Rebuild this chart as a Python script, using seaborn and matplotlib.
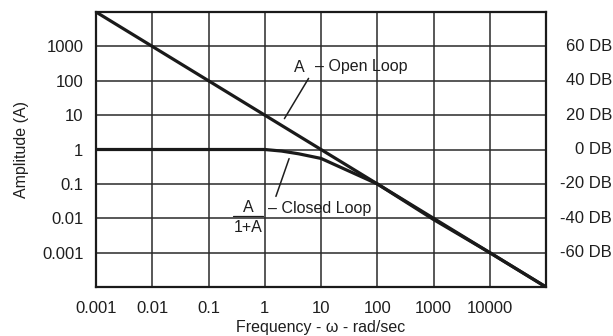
import numpy as np
import pandas as pd
import matplotlib
matplotlib.use("Agg")
import matplotlib.pyplot as plt
import matplotlib.transforms as mtransforms
import seaborn as sns

# ---- data ----
freq = [0.001, 0.01, 0.1, 1, 10, 100, 1000, 10000, 100000]
open_loop = [10000, 1000, 100, 10, 1, 0.1, 0.01, 0.001, 0.0001]
closed_freq = [0.001, 0.01, 0.1, 1, 2, 4, 10, 100, 1000, 10000, 100000]
closed_loop = [1, 1, 1, 1, 0.9, 0.75, 0.55, 0.1, 0.0092, 0.001, 0.0001]
x_ticks = [0.001, 0.01, 0.1, 1, 10, 100, 1000, 10000]
x_tick_labels = ["0.001", "0.01", "0.1", "1", "10", "100", "1000", "10000"]
y_ticks = [1000, 100, 10, 1, 0.1, 0.01, 0.001]
y_tick_labels = ["1000", "100", "10", "1", "0.1", "0.01", "0.001"]
db_labels = ["60 DB", "40 DB", "20 DB", "0 DB", "-20 DB", "-40 DB", "-60 DB"]

df_open = pd.DataFrame({"freq": freq, "amp": open_loop})
df_closed = pd.DataFrame({"freq": closed_freq, "amp": closed_loop})

sns.set_style("white")
plt.rcParams["font.family"] = ["Liberation Sans", "DejaVu Sans"]

FS_TICK = 12
FS = 11.5
TXT = "#1e1e1e"

fig = plt.figure(figsize=(6.13, 3.36), dpi=100)
L, R, T, B = 96, 546, 12, 287
W, H = 613, 336
ax = fig.add_axes([L / W, 1 - B / H, (R - L) / W, (B - T) / H])

ink = "#1a1a1a"
sns.lineplot(data=df_open, x="freq", y="amp", ax=ax, color=ink, linewidth=2.3,
             sort=False, estimator=None)
sns.lineplot(data=df_closed, x="freq", y="amp", ax=ax, color=ink, linewidth=2.3,
             sort=False, estimator=None)

ax.set_xscale("log")
ax.set_yscale("log")
ax.set_xlim(0.001, 100000)
ax.set_ylim(0.0001, 10000)

# grid at decades
for v in [0.01, 0.1, 1, 10, 100, 1000, 10000]:
    ax.axvline(v, color="#2a2a2a", linewidth=1.1, zorder=0)
for v in [0.001, 0.01, 0.1, 1, 10, 100, 1000]:
    ax.axhline(v, color="#2a2a2a", linewidth=1.1, zorder=0)

ax.set_xticks(x_ticks)
ax.set_xticklabels(x_tick_labels)
ax.set_yticks(y_ticks)
ax.set_yticklabels(y_tick_labels)
ax.minorticks_off()
ax.tick_params(axis="both", length=0, labelsize=FS_TICK, colors=TXT)
ax.tick_params(axis="x", pad=10)
ax.tick_params(axis="y", pad=9)

for s in ax.spines.values():
    s.set_visible(True)
    s.set_color(ink)
    s.set_linewidth(1.6)

ax.set_xlabel("Frequency - \u03c9 - rad/sec", fontsize=FS, color=TXT, labelpad=3)
ax.set_ylabel("Amplitude (A)", fontsize=FS, color=TXT, labelpad=9)

# right-hand dB labels
trans = mtransforms.blended_transform_factory(fig.transFigure, ax.transData)
for v, lab in zip(y_ticks, db_labels):
    ax.text(612 / W, v, lab, transform=trans, ha="right", va="center",
            fontsize=FS_TICK, color=TXT)

# annotations (in pixel positions converted to axes fraction)
def P(px, py):
    return ((px - L) / (R - L), (B - py) / (B - T))

ax.text(*P(299, 67), "A", transform=ax.transAxes, ha="center", va="center",
        fontsize=FS, color=TXT)
ax.text(*P(315, 67), "\u2013 Open Loop", transform=ax.transAxes, ha="left",
        va="center", fontsize=FS, color=TXT)
ax.annotate("", xy=P(283, 121), xytext=P(310, 76), xycoords="axes fraction",
            textcoords="axes fraction",
            arrowprops=dict(arrowstyle="-", color=TXT, lw=1.1))

ax.text(*P(248, 207), "A", transform=ax.transAxes, ha="center", va="center",
        fontsize=FS, color=TXT)
ax.plot([P(233, 216)[0], P(263, 216)[0]], [P(233, 216)[1], P(263, 216)[1]],
        transform=ax.transAxes, color=TXT, lw=0.9)
ax.text(*P(248, 228), "1+A", transform=ax.transAxes, ha="center", va="center",
        fontsize=FS, color=TXT)
ax.text(*P(268, 209), "\u2013 Closed Loop", transform=ax.transAxes, ha="left",
        va="center", fontsize=FS, color=TXT)
ax.annotate("", xy=P(290, 156), xytext=P(275, 199), xycoords="axes fraction",
            textcoords="axes fraction",
            arrowprops=dict(arrowstyle="-", color=TXT, lw=1.1))

fig.savefig("out.png", dpi=100)
